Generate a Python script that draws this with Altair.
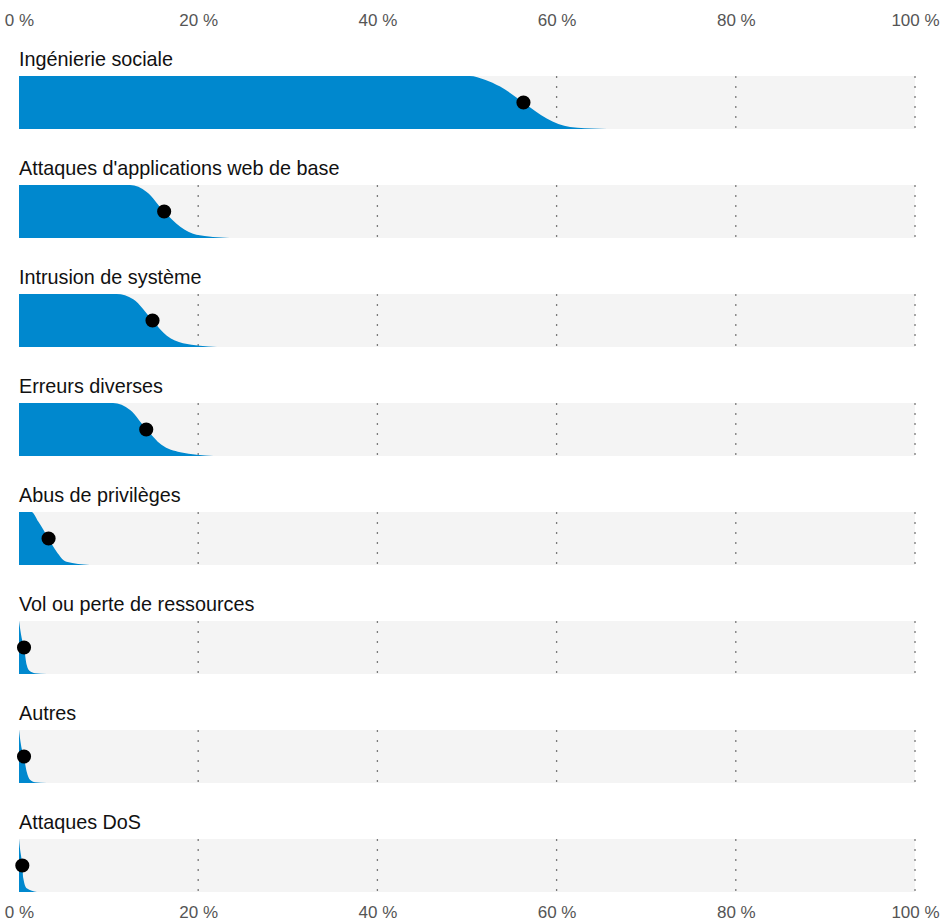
import altair as alt
import pandas as pd

# ---- data ----
categories = [
    "Ingénierie sociale",
    "Attaques d'applications web de base",
    "Intrusion de système",
    "Erreurs diverses",
    "Abus de privilèges",
    "Vol ou perte de ressources",
    "Autres",
    "Attaques DoS",
]
medians = [56.3, 16.2, 14.9, 14.2, 3.3, 0.56, 0.56, 0.37]

# share of the distribution above x (height of the blue slab), read per row
curve_x = [
    [0, 50.3, 52.0, 53.7, 56.3, 58.9, 61.5, 64.8, 66.5],
    [0, 12.4, 14.25, 16.2, 18.0, 19.8, 23.5],
    [0, 10.9, 12.75, 14.9, 16.5, 18.3, 22.1],
    [0, 10.5, 12.4, 14.25, 15.9, 18.0, 21.7],
    [0, 1.4, 2.15, 3.3, 4.2, 5.3, 7.9],
    [0, 0.3, 0.56, 0.86, 1.23, 1.8, 3.1],
    [0, 0.22, 0.56, 0.86, 1.23, 1.8, 3.1],
    [0, 0.11, 0.37, 0.48, 0.86, 2.0],
]
curve_y = [
    [1, 1, 0.93, 0.8, 0.5, 0.2, 0.04, 0.005, 0],
    [1, 1, 0.87, 0.5, 0.21, 0.06, 0],
    [1, 1, 0.9, 0.5, 0.21, 0.07, 0],
    [1, 1, 0.87, 0.5, 0.21, 0.07, 0],
    [1, 1, 0.82, 0.5, 0.25, 0.06, 0],
    [1, 0.68, 0.5, 0.17, 0.05, 0.015, 0],
    [1, 0.72, 0.48, 0.21, 0.06, 0.015, 0],
    [1, 0.82, 0.5, 0.26, 0.07, 0],
]
tick_values = [0, 20, 40, 60, 80, 100]
grid_values = [20, 40, 60, 80, 100]

# ---- styling ----
FONT = "Liberation Sans"
BLUE = "#0088ce"
W = 896
H = 53

xscale = alt.Scale(domain=[0, 100], nice=False, zero=False)
yscale = alt.Scale(domain=[0, 1], nice=False)


def pct_axis(orient, pad):
    return alt.Axis(
        orient=orient,
        values=tick_values,
        labelExpr="datum.value + ' %'",
        domain=False,
        ticks=False,
        grid=False,
        title=None,
        labelFont=FONT,
        labelFontSize=17,
        labelColor="#555555",
        labelPadding=pad,
        labelFlush=False,
        labelOverlap=False,
    )


top = (
    alt.Chart(pd.DataFrame({"t": tick_values}))
    .mark_rule(opacity=0)
    .encode(x=alt.X("t:Q", scale=xscale, axis=pct_axis("top", 4)))
    .properties(width=W, height=1)
)

panels = []
for i, cat in enumerate(categories):
    last = i == len(categories) - 1
    ax = pct_axis("bottom", 12) if last else None
    curve = pd.DataFrame({"x": curve_x[i], "f": curve_y[i]})
    grid = pd.DataFrame({"g": grid_values})
    dot = pd.DataFrame({"m": [medians[i]], "f": [0.5]})

    grid_l = (
        alt.Chart(grid)
        .mark_rule(color="#7a7a7a", strokeDash=[2, 8], strokeWidth=1.3)
        .encode(x=alt.X("g:Q", scale=xscale, axis=ax))
    )
    area_l = (
        alt.Chart(curve)
        .mark_area(color=BLUE, interpolate="monotone", opacity=1)
        .encode(
            x=alt.X("x:Q", scale=xscale, axis=ax),
            y=alt.Y("f:Q", scale=yscale, axis=None),
        )
    )
    dot_l = (
        alt.Chart(dot)
        .mark_circle(size=200, color="black", opacity=1)
        .encode(
            x=alt.X("m:Q", scale=xscale, axis=ax),
            y=alt.Y("f:Q", scale=yscale, axis=None),
        )
    )
    panel = alt.layer(grid_l, area_l, dot_l).properties(
        width=W,
        height=H,
        title=alt.TitleParams(
            text=cat,
            anchor="start",
            frame="group",
            font=FONT,
            fontSize=19.8,
            fontWeight="normal",
            color="#111111",
            offset=6,
        ),
        view=alt.ViewBackground(fill="#f4f4f4", stroke="transparent"),
    )
    panels.append(panel)

body = alt.vconcat(*panels, spacing=28)

chart = (
    alt.vconcat(top, body, spacing=15)
    .properties(padding={"left": 4, "top": 11, "right": 0, "bottom": 0})
    .configure_view(strokeWidth=0)
)

chart.save("out.html", embed_options={"renderer": "svg", "actions": False})
